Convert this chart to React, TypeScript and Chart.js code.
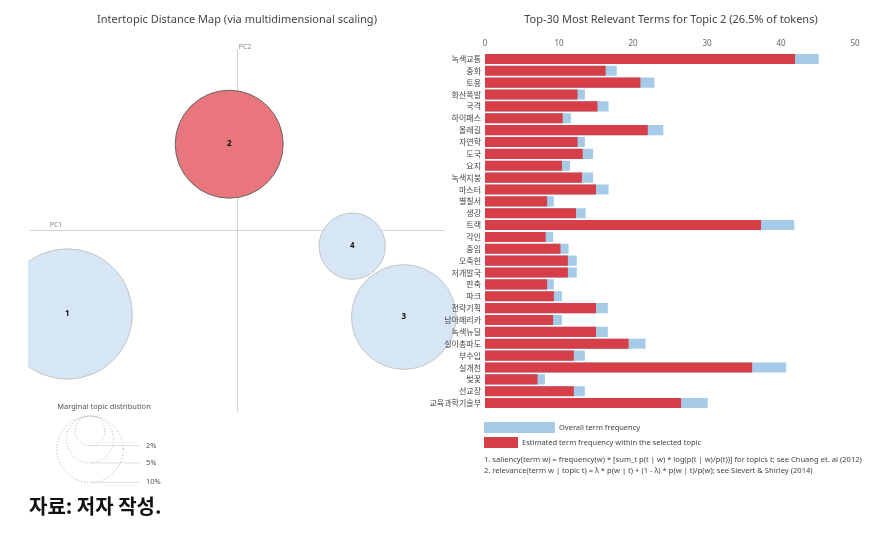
import React, { useEffect, useRef } from "react";
import { Chart, registerables } from "chart.js";
Chart.register(...registerables);

// ---- Left panel data (intertopic distance map) ----
const topicIds = ["1", "2", "3", "4"];
const topicPC1 = [-0.283, -0.013, 0.278, 0.192];
const topicPC2 = [-0.14, 0.143, -0.145, -0.027];
const topicShare = [38.6, 26.5, 24.9, 10.0]; // % of tokens
const selectedTopic = "2";
const legendShares = [2, 5, 10];
const legendLabels = ["2%", "5%", "10%"];

// ---- Right panel data (top-30 terms for topic 2) ----
const terms = [
  "녹색교통", "중화", "토용", "화산폭발", "국격", "하이패스", "올레길", "자연학", "도국", "요지",
  "녹색지붕", "마스터", "별칠서", "생강", "트랙", "각인", "중임", "오죽헌", "저개발국", "판축",
  "파크", "전략기획", "남아메리카", "녹색뉴딜", "실이총파도", "부수입", "실개천", "벚꽃", "선교장", "교육과학기술부",
];
const overallFreq = [
  45.1, 17.8, 22.9, 13.5, 16.7, 11.6, 24.1, 13.5, 14.6, 11.5,
  14.6, 16.7, 9.3, 13.6, 41.8, 9.2, 11.3, 12.4, 12.4, 9.3,
  10.4, 16.6, 10.4, 16.6, 21.7, 13.5, 40.7, 8.1, 13.5, 30.1,
];
const topicFreq = [
  41.9, 16.3, 21.0, 12.5, 15.2, 10.5, 22.0, 12.5, 13.2, 10.4,
  13.1, 15.0, 8.4, 12.3, 37.3, 8.2, 10.2, 11.2, 11.2, 8.4,
  9.3, 15.0, 9.2, 15.0, 19.4, 12.0, 36.1, 7.1, 12.0, 26.5,
];
const xTickStep = 10;
const xMax = 50;

const LATIN = '"Segoe UI", "Noto Sans", "Noto Sans CJK KR", sans-serif';
const KOR = '"Noto Sans CJK KR", "Noto Sans", sans-serif';

const RADIUS_K = 54 / Math.sqrt(26.5);
const radiusOf = (share: number) => RADIUS_K * Math.sqrt(share);

const LEFT_OFF = 28; // left canvas starts here on the page

export default function App() {
  const leftRef = useRef<HTMLCanvasElement | null>(null);
  const rightRef = useRef<HTMLCanvasElement | null>(null);

  useEffect(() => {
    const PX = 600;
    const OX = LEFT_OFF;
    const leftPlugin = {
      id: "ldaLeft",
      beforeDatasetsDraw(chart: any) {
        const { ctx, chartArea, scales } = chart;
        const ox = scales.x.getPixelForValue(0);
        const oy = scales.y.getPixelForValue(0);
        ctx.save();
        ctx.strokeStyle = "#d4d4d4";
        ctx.lineWidth = 1;
        ctx.beginPath();
        ctx.moveTo(chartArea.left + 2, Math.round(oy) + 0.5);
        ctx.lineTo(chartArea.right - 23, Math.round(oy) + 0.5);
        ctx.moveTo(Math.round(ox) + 0.5, chartArea.top + 20);
        ctx.lineTo(Math.round(ox) + 0.5, chartArea.bottom - 8);
        ctx.stroke();
        ctx.fillStyle = "#888";
        ctx.font = `7px ${LATIN}`;
        ctx.textAlign = "center";
        ctx.textBaseline = "middle";
        ctx.fillText("PC1", chartArea.left + 28, oy - 5);
        ctx.fillText("PC2", ox + 8, chartArea.top + 17);
        ctx.restore();
      },
      afterDatasetsDraw(chart: any) {
        const { ctx, scales } = chart;
        ctx.save();
        ctx.fillStyle = "#111";
        ctx.font = `bold 8px ${LATIN}`;
        ctx.textAlign = "center";
        ctx.textBaseline = "middle";
        topicIds.forEach((id, i) => {
          ctx.fillText(id, scales.x.getPixelForValue(topicPC1[i]), scales.y.getPixelForValue(topicPC2[i]));
        });
        ctx.restore();
      },
      afterDraw(chart: any) {
        const { ctx, chartArea } = chart;
        ctx.save();
        ctx.fillStyle = "#444";
        ctx.font = `11px ${LATIN}`;
        ctx.textAlign = "center";
        ctx.textBaseline = "middle";
        ctx.fillText("Intertopic Distance Map (via multidimensional scaling)", 237 - OX, 20);
        // marginal topic distribution legend
        const cx = 90 - OX;
        const top = chartArea.bottom - 4;
        ctx.font = `7.5px ${LATIN}`;
        ctx.fillStyle = "#555";
        ctx.fillText("Marginal topic distribution", 104 - OX, chartArea.bottom - 13);
        ctx.strokeStyle = "#aaa";
        ctx.lineWidth = 1;
        legendShares.forEach((s, i) => {
          const r = radiusOf(s);
          ctx.setLineDash([1, 2]);
          ctx.beginPath();
          ctx.arc(cx, top + r, r, 0, Math.PI * 2);
          ctx.stroke();
          ctx.setLineDash([]);
          ctx.strokeStyle = "#ddd";
          ctx.beginPath();
          ctx.moveTo(cx, top + 2 * r);
          ctx.lineTo(140 - OX, top + 2 * r);
          ctx.stroke();
          ctx.strokeStyle = "#aaa";
          ctx.textAlign = "left";
          ctx.fillText(legendLabels[i], 146 - OX, top + 2 * r);
        });
        ctx.restore();
      },
    };

    const leftChart = new Chart(leftRef.current as HTMLCanvasElement, {
      type: "bubble",
      data: {
        datasets: [
          {
            data: topicIds.map((_, i) => ({ x: topicPC1[i], y: topicPC2[i], r: radiusOf(topicShare[i]) })),
            backgroundColor: topicIds.map((id) => (id === selectedTopic ? "rgba(232,118,124,1)" : "rgba(214,230,245,1)")),
            borderColor: topicIds.map((id) => (id === selectedTopic ? "#666" : "#c4c4c4")),
            borderWidth: 1,
          } as any,
        ],
      },
      options: {
        animation: false,
        responsive: false,
        events: [],
        layout: { autoPadding: false, padding: { left: 0, top: 30, right: 2, bottom: 75 } },
        scales: {
          x: { type: "linear", min: -(237 - 28) / PX, max: (468 - 237) / PX, display: false },
          y: { type: "linear", min: -(420 - 230) / PX, max: (230 - 30) / PX, display: false },
        },
        plugins: { legend: { display: false }, tooltip: { enabled: false } },
      } as any,
      plugins: [leftPlugin],
    });

    const RED = "rgb(214,62,72)";
    const BLUE = "rgb(165,203,232)";
    const rightPlugin = {
      id: "ldaRight",
      afterDraw(chart: any) {
        const { ctx, chartArea } = chart;
        const x0 = chartArea.left - 1;
        const yb = chartArea.bottom;
        ctx.save();
        ctx.fillStyle = "#444";
        ctx.font = `11px ${LATIN}`;
        ctx.textAlign = "center";
        ctx.textBaseline = "middle";
        ctx.fillText("Top-30 Most Relevant Terms for Topic 2 (26.5% of tokens)", 251, 20);
        ctx.fillStyle = BLUE;
        ctx.fillRect(x0, yb + 13, 71, 11);
        ctx.fillStyle = RED;
        ctx.fillRect(x0, yb + 28, 34, 11);
        ctx.fillStyle = "#444";
        ctx.textAlign = "left";
        ctx.font = `7.5px ${LATIN}`;
        ctx.fillText("Overall term frequency", x0 + 75, yb + 18.5);
        ctx.fillText("Estimated term frequency within the selected topic", x0 + 38, yb + 33.5);
        ctx.font = `7.6px ${LATIN}`;
        ctx.fillText(
          "1. saliency(term w) = frequency(w) * [sum_t p(t | w) * log(p(t | w)/p(t))] for topics t; see Chuang et. al (2012)",
          x0, yb + 51
        );
        ctx.fillText(
          "2. relevance(term w | topic t) = \u03bb * p(w | t) + (1 - \u03bb) * p(w | t)/p(w); see Sievert & Shirley (2014)",
          x0, yb + 62
        );
        ctx.restore();
      },
    };

    const rightChart = new Chart(rightRef.current as HTMLCanvasElement, {
      type: "bar",
      data: {
        labels: terms,
        datasets: [
          { label: "Estimated term frequency within the selected topic", data: topicFreq, backgroundColor: RED, grouped: false, barPercentage: 0.85, categoryPercentage: 1 } as any,
          { label: "Overall term frequency", data: overallFreq, backgroundColor: BLUE, grouped: false, barPercentage: 0.85, categoryPercentage: 1 } as any,
        ],
      },
      options: {
        indexAxis: "y",
        animation: false,
        responsive: false,
        events: [],
        layout: { padding: { left: 0, top: 30, right: 28, bottom: 81 } },
        scales: {
          x: {
            position: "top",
            min: 0,
            max: xMax,
            ticks: { stepSize: xTickStep, color: "#666", font: { size: 8, family: LATIN }, padding: 4 },
            grid: { display: false, drawTicks: false },
            border: { display: false },
            afterFit: (s: any) => { s.height = 23; },
          },
          y: {
            ticks: { autoSkip: false, color: "#444", font: { size: 8, family: KOR }, padding: 4 },
            grid: { display: false, drawTicks: false },
            border: { display: false },
            afterFit: (s: any) => { s.width = 65; },
          },
        },
        plugins: { legend: { display: false }, tooltip: { enabled: false } },
      } as any,
      plugins: [rightPlugin],
    });

    return () => {
      leftChart.destroy();
      rightChart.destroy();
    };
  }, []);

  return (
    <div style={{ position: "fixed", left: 0, top: 0, width: 883, height: 535, background: "#fff", overflow: "hidden" }}>
      <canvas ref={leftRef} width={442} height={495} style={{ position: "absolute", left: LEFT_OFF, top: 0 }} />
      <canvas ref={rightRef} width={463} height={490} style={{ position: "absolute", left: 420, top: 0 }} />
      <div
        style={{
          position: "absolute", left: 29, top: 492, fontFamily: KOR, fontWeight: 700,
          fontSize: 20, color: "#111", lineHeight: "28px",
        }}
      >
        자료: 저자 작성.
      </div>
    </div>
  );
}
